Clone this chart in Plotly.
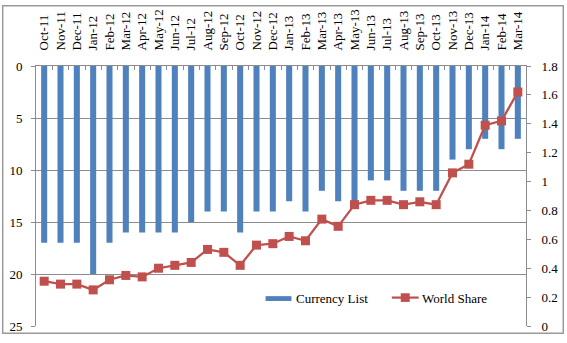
import plotly.graph_objects as go

# Monthly categories
months = [
    "Oct-11", "Nov-11", "Dec-11",
    "Jan-12", "Feb-12", "Mar-12", "Apr-12", "May-12", "Jun-12",
    "Jul-12", "Aug-12", "Sep-12", "Oct-12", "Nov-12", "Dec-12",
    "Jan-13", "Feb-13", "Mar-13", "Apr-13", "May-13", "Jun-13",
    "Jul-13", "Aug-13", "Sep-13", "Oct-13", "Nov-13", "Dec-13",
    "Jan-14", "Feb-14", "Mar-14",
]

# Currency list ranking (left axis, reversed)
currency_list = [
    17, 17, 17,
    20, 17, 16, 16, 16, 16,
    15, 14, 14, 16, 14, 14,
    13, 14, 12, 13, 13, 11,
    11, 12, 12, 12, 9, 8,
    7, 8, 7,
]

# World share in percent (right axis)
world_share = [
    0.31, 0.29, 0.29,
    0.25, 0.32, 0.35, 0.34, 0.40, 0.42,
    0.44, 0.53, 0.51, 0.42, 0.56, 0.57,
    0.62, 0.59, 0.74, 0.69, 0.84, 0.87,
    0.87, 0.84, 0.86, 0.84, 1.06, 1.12,
    1.39, 1.42, 1.62,
]

left_ticks = [0, 5, 10, 15, 20, 25]
right_ticks = [0, 0.2, 0.4, 0.6, 0.8, 1, 1.2, 1.4, 1.6, 1.8]

W, H = 567, 343
ML, MR, MT, MB = 35, 39, 64, 9
PW, PH = W - ML - MR, H - MT - MB

BLUE = "#4F81BD"
RED = "#C0504D"
GRID = "#8C8C8C"
FONT = "Liberation Serif"


def px_x(px):
    return (px - ML) / PW


def px_y(py):
    return (H - MB - py) / PH


fig = go.Figure()

fig.add_trace(go.Bar(
    x=months, y=currency_list, name="Currency List",
    marker=dict(color=BLUE, line=dict(width=0)),
    yaxis="y", showlegend=False,
))

fig.add_trace(go.Scatter(
    x=months, y=world_share, name="World Share",
    mode="lines+markers",
    line=dict(color=RED, width=2.25),
    marker=dict(symbol="square", size=9, color=RED),
    yaxis="y2", showlegend=False,
))

axis_font = dict(family=FONT, size=13, color="#000000")

fig.update_layout(
    width=W, height=H,
    margin=dict(l=ML, r=MR, t=MT, b=MB),
    paper_bgcolor="white", plot_bgcolor="white",
    bargap=0.63,
    font=dict(family=FONT, color="#000000"),
    xaxis=dict(
        type="category", side="top", tickangle=-90,
        range=[-0.5, len(months) - 0.5],
        tickmode="array", tickvals=months, ticktext=months,
        tickfont=axis_font, showgrid=False,
        showline=True, linecolor=GRID, linewidth=1,
        ticks="inside", ticklen=4, tickcolor=GRID, tickson="boundaries",
        ticklabelstandoff=12,
    ),
    yaxis=dict(
        range=[25, 0], tickvals=left_ticks, tickfont=axis_font,
        showgrid=True, gridcolor=GRID, gridwidth=1, zeroline=False,
        showline=True, linecolor=GRID, linewidth=1,
        ticks="outside", ticklen=4, tickcolor=GRID,
        ticklabelstandoff=6,
    ),
    yaxis2=dict(
        range=[0, 1.8], tickvals=right_ticks, tickfont=axis_font,
        overlaying="y", side="right", showgrid=False, zeroline=False,
        showline=True, linecolor=GRID, linewidth=1,
        ticks="outside", ticklen=4, tickcolor=GRID,
        ticklabelstandoff=8,
    ),
)

shapes = []
# chart frame
shapes.append(dict(type="rect", xref="paper", yref="paper",
                   x0=px_x(1.5), x1=px_x(565.5), y0=px_y(341.5), y1=px_y(1.5),
                   line=dict(color="#9A9A9A", width=1.5), fillcolor="rgba(0,0,0,0)",
                   layer="below"))
# legend: bar swatch
shapes.append(dict(type="rect", xref="paper", yref="paper",
                   x0=px_x(266), x1=px_x(292), y0=px_y(308), y1=px_y(303),
                   line=dict(width=0), fillcolor=BLUE))
# legend: line sample
shapes.append(dict(type="line", xref="paper", yref="paper",
                   x0=px_x(393), x1=px_x(420), y0=px_y(304.5), y1=px_y(304.5),
                   line=dict(color=RED, width=2.25)))
shapes.append(dict(type="rect", xref="paper", yref="paper",
                   x0=px_x(402), x1=px_x(411), y0=px_y(309), y1=px_y(300),
                   line=dict(width=0), fillcolor=RED))
fig.update_layout(shapes=shapes)

legend_font = dict(family=FONT, size=13, color="#000000")
fig.add_annotation(text="Currency List", xref="paper", yref="paper",
                   x=px_x(295), y=px_y(305), xanchor="left", yanchor="middle",
                   showarrow=False, font=legend_font)
fig.add_annotation(text="World Share", xref="paper", yref="paper",
                   x=px_x(421), y=px_y(305), xanchor="left", yanchor="middle",
                   showarrow=False, font=legend_font)

fig.write_html("out.html")
